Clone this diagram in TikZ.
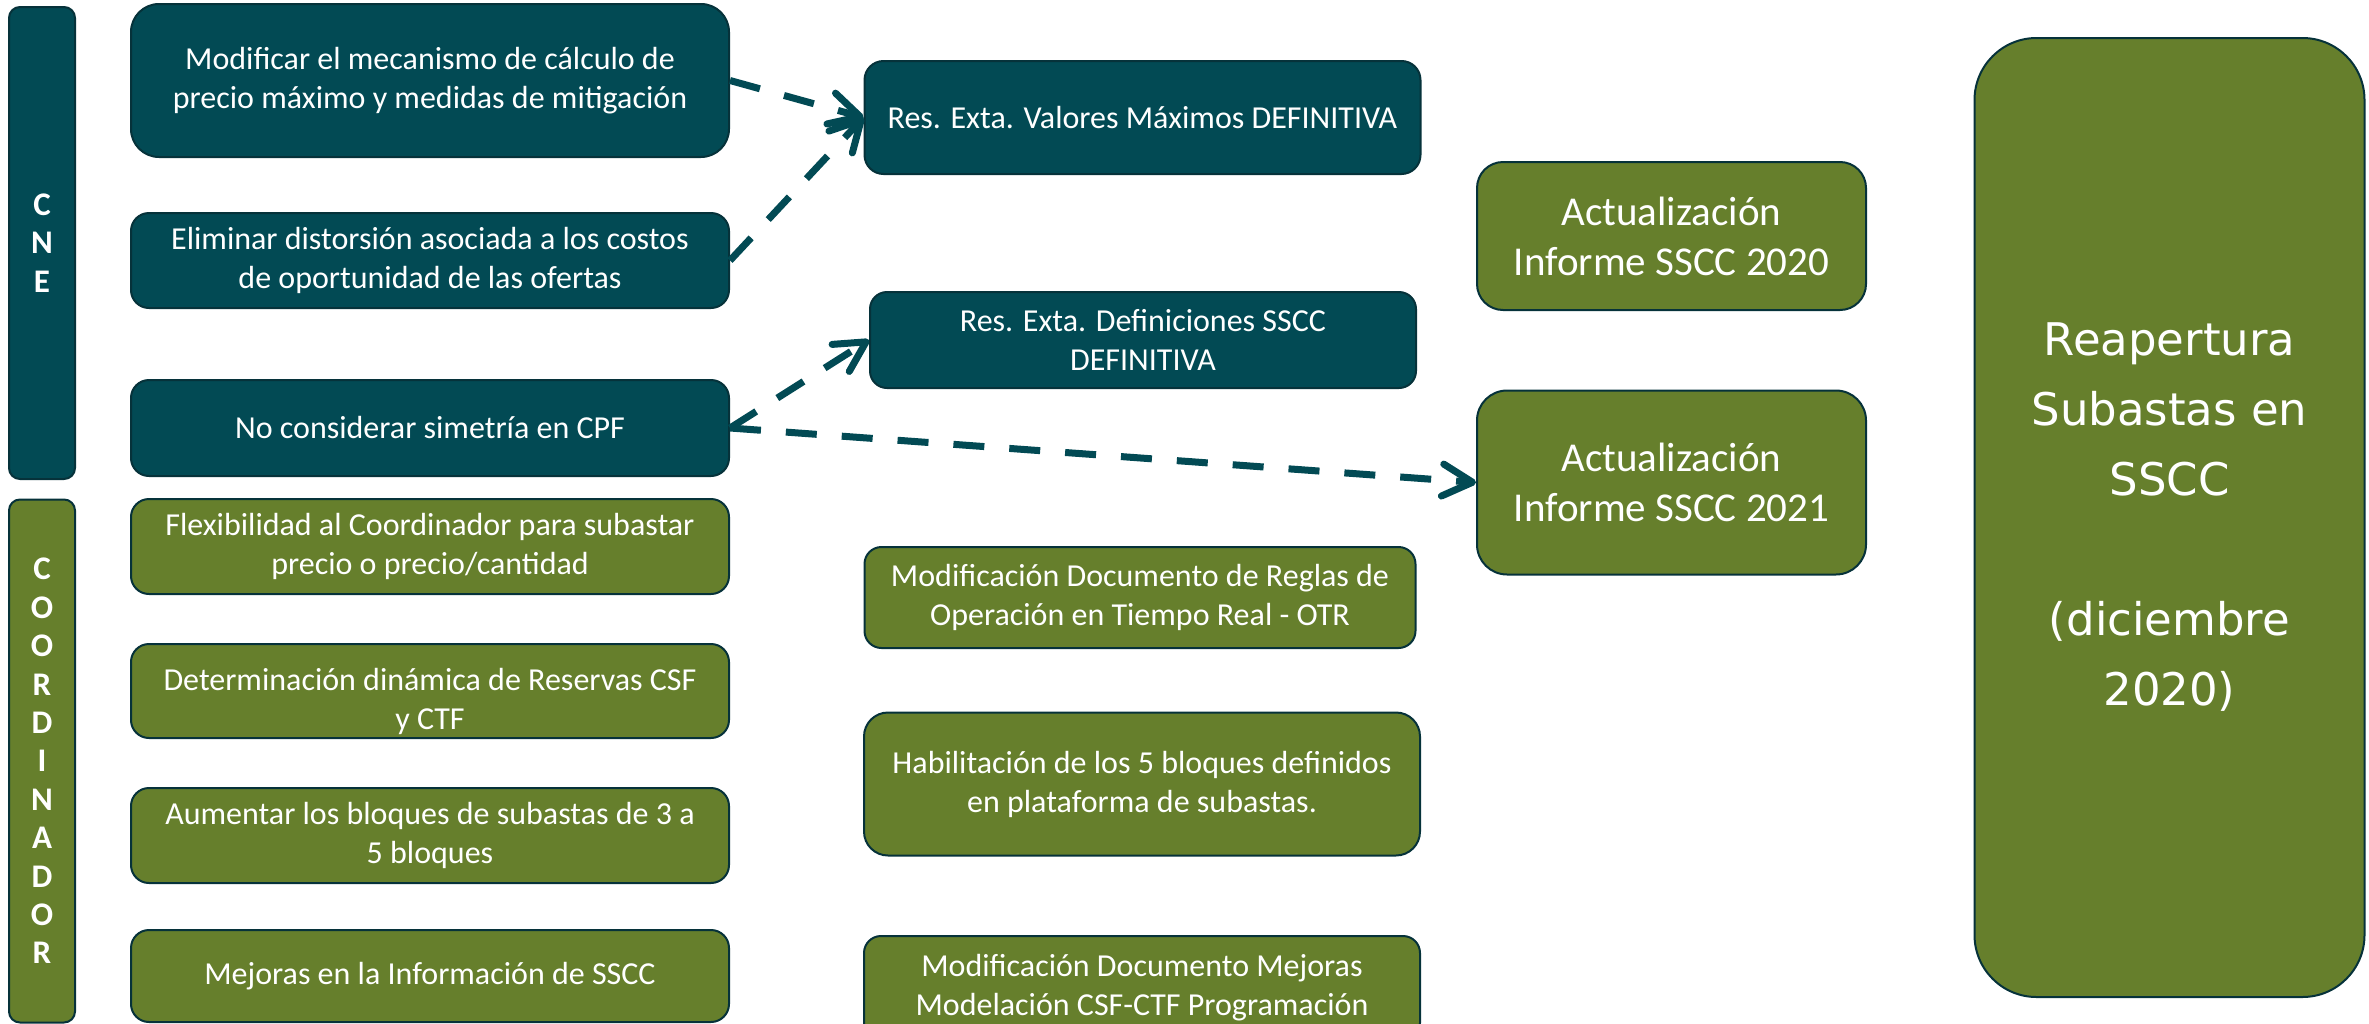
\documentclass[tikz,border=0pt]{standalone}
\usepackage{fontspec}
\setmainfont{Carlito}
\newfontfamily\verd{DejaVu Sans}
\usetikzlibrary{arrows.meta}
\definecolor{teal1}{RGB}{2,74,84}
\definecolor{olive1}{RGB}{102,127,44}
\definecolor{edge1}{RGB}{6,50,58}
\begin{document}
\begin{tikzpicture}[x=1pt,y=-1pt,
  box/.style={draw=edge1, line width=2pt, text=white, align=center, inner sep=0pt,
              font=\fontsize{32pt}{39pt}\selectfont},
  tbox/.style={box, fill=teal1},
  gbox/.style={box, fill=olive1},
  sidebar/.style={box, minimum width=66pt, rounded corners=11pt,
              font=\fontsize{33pt}{38.4pt}\selectfont\bfseries},
  leftbox/.style={minimum width=598pt, rounded corners=18pt},
  midbox/.style={rounded corners=17pt},
  actbox/.style={gbox, minimum width=389pt, rounded corners=26pt,
              font=\fontsize{41pt}{50pt}\selectfont},
  conn/.style={draw=teal1, line width=7pt, dash pattern=on 31pt off 25pt,
              -{Straight Barb[length=30pt,width=32pt,round]}},
]
\useasboundingbox (0,0) rectangle (2369,1023);

% side bars
\node[sidebar, fill=teal1, minimum height=472pt] (cne) at (42,243) {C\\N\\E};
\node[sidebar, fill=olive1, minimum height=523pt] (coord) at (42,761)
  {C\\O\\O\\R\\D\\I\\N\\A\\D\\O\\R};

% left column
\node[tbox, leftbox, minimum height=153pt, rounded corners=28pt] (mod) at (430,80.5)
  {Modificar el mecanismo de cálculo de\\precio máximo y medidas de mitigación};
\node[tbox, leftbox, minimum height=95pt] (elim) at (430,260.5)
  {Eliminar distorsión asociada a los costos\\de oportunidad de las ofertas};
\node[tbox, leftbox, minimum height=96pt] (nocons) at (430,428)
  {No considerar simetría en CPF};
\node[gbox, leftbox, minimum height=95pt] (flex) at (430,546.5)
  {Flexibilidad al Coordinador para subastar\\precio o precio/cantidad};
\node[gbox, leftbox, minimum height=94pt] (det) at (430,691) {};
\node[text=white, align=center, inner sep=0pt, font=\fontsize{32pt}{39pt}\selectfont]
  (dettext) at (430,701) {Determinación dinámica de Reservas CSF\\y CTF};
\node[gbox, leftbox, minimum height=95pt] (aum) at (430,835.5)
  {Aumentar los bloques de subastas de 3 a\\5 bloques};
\node[gbox, leftbox, minimum height=92pt] (mej) at (430,976)
  {Mejoras en la Información de SSCC};

% middle column
\node[tbox, midbox, minimum width=556pt, minimum height=113pt, rounded corners=19pt] (resval) at (1142.5,117.5)
  {Res. Exta. Valores Máximos DEFINITIVA};
\node[tbox, midbox, minimum width=546pt, minimum height=96pt] (resdef) at (1143,340)
  {Res. Exta. Definiciones SSCC\\DEFINITIVA};
\node[gbox, midbox, minimum width=551pt, minimum height=101pt] (otr) at (1140,597.5)
  {Modificación Documento de Reglas de\\Operación en Tiempo Real - OTR};
\node[gbox, midbox, minimum width=556pt, minimum height=143pt, rounded corners=24pt] (hab) at (1142,784)
  {Habilitación de los 5 bloques definidos\\en plataforma de subastas.};
\node[gbox, midbox, minimum width=556pt, minimum height=104pt] (mmod) at (1142,988)
  {Modificación Documento Mejoras\\Modelación CSF-CTF Programación};

% right column
\node[actbox, minimum height=148pt] (act20) at (1671.5,236)
  {Actualización\\Informe SSCC 2020};
\node[actbox, minimum height=184pt, rounded corners=30pt] (act21) at (1671.5,482.5)
  {Actualización\\Informe SSCC 2021};
\node[gbox, minimum width=390pt, minimum height=959pt, rounded corners=62pt,
      font=\verd\fontsize{45pt}{70pt}\selectfont] (reap) at (2169.5,517.5)
  {Reapertura\\Subastas en\\SSCC\\[70pt](diciembre\\2020)};

% connectors
\draw[conn] (mod.east) -- (resval.west);
\draw[conn] (elim.east) -- (resval.west);
\draw[conn] (nocons.east) -- (resdef.west);
\draw[conn] (nocons.east) -- (act21.west);
\end{tikzpicture}
\end{document}
